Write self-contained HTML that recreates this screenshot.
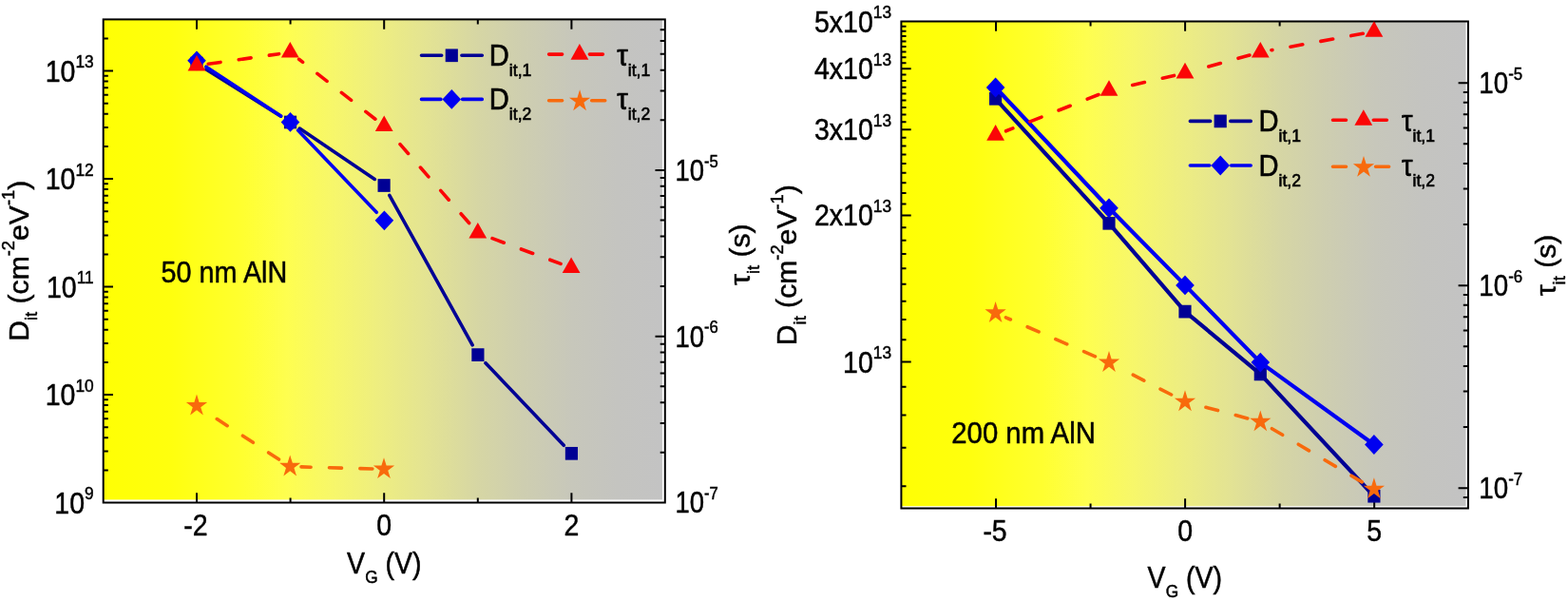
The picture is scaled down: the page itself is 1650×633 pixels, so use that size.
<!DOCTYPE html>
<html lang="en"><head><meta charset="utf-8"><title>Dit and tau_it versus VG for 50 nm and 200 nm AlN</title>
<style>
html,body{margin:0;padding:0;background:#fff;}
body{width:1650px;height:633px;overflow:hidden;}
svg{display:block;}
text{font-family:"Liberation Sans", sans-serif;fill:#000;}
</style></head><body>
<svg width="1650" height="633" viewBox="0 0 1650 633">
<rect width="1650" height="633" fill="#fff"/>
<defs><linearGradient id="gL" x1="0" y1="0" x2="1" y2="0">
<stop offset="0" stop-color="#ffff04"/>
<stop offset="0.12" stop-color="#ffff0e"/>
<stop offset="0.25" stop-color="#ffff30"/>
<stop offset="0.33" stop-color="#fefe50"/>
<stop offset="0.41" stop-color="#f7f76a"/>
<stop offset="0.5" stop-color="#eded82"/>
<stop offset="0.58" stop-color="#e3e393"/>
<stop offset="0.67" stop-color="#d6d6a4"/>
<stop offset="0.75" stop-color="#ceceb0"/>
<stop offset="0.84" stop-color="#c7c7bb"/>
<stop offset="0.92" stop-color="#c4c4c0"/>
<stop offset="1" stop-color="#c3c3c3"/>
</linearGradient></defs>
<rect x="108.7" y="20.4" width="588.20" height="505.00" fill="url(#gL)"/>
<path d="M207.00 528.5v-10.3M207.00 20.4v10.3M305.60 528.5v-5.1M305.60 20.4v5.1M404.20 528.5v-10.3M404.20 20.4v10.3M502.80 528.5v-5.1M502.80 20.4v5.1M601.40 528.5v-10.3M601.40 20.4v10.3M108.7 494.43h5.1M108.7 474.45h5.1M108.7 460.27h5.1M108.7 449.27h5.1M108.7 440.28h5.1M108.7 432.68h5.1M108.7 426.10h5.1M108.7 420.29h5.1M108.7 415.10h10.3M108.7 380.93h5.1M108.7 360.95h5.1M108.7 346.77h5.1M108.7 335.77h5.1M108.7 326.78h5.1M108.7 319.18h5.1M108.7 312.60h5.1M108.7 306.79h5.1M108.7 301.60h10.3M108.7 267.43h5.1M108.7 247.45h5.1M108.7 233.27h5.1M108.7 222.27h5.1M108.7 213.28h5.1M108.7 205.68h5.1M108.7 199.10h5.1M108.7 193.29h5.1M108.7 188.10h10.3M108.7 153.93h5.1M108.7 133.95h5.1M108.7 119.77h5.1M108.7 108.77h5.1M108.7 99.78h5.1M108.7 92.18h5.1M108.7 85.60h5.1M108.7 79.79h5.1M108.7 74.60h10.3M108.7 40.43h5.1M699.8 475.80h-5.1M699.8 445.02h-5.1M699.8 423.19h-5.1M699.8 406.25h-5.1M699.8 392.42h-5.1M699.8 380.72h-5.1M699.8 370.59h-5.1M699.8 361.65h-5.1M699.8 353.65h-10.3M699.8 301.05h-5.1M699.8 270.27h-5.1M699.8 248.44h-5.1M699.8 231.50h-5.1M699.8 217.67h-5.1M699.8 205.97h-5.1M699.8 195.84h-5.1M699.8 186.90h-5.1M699.8 178.90h-10.3M699.8 126.30h-5.1M699.8 95.52h-5.1M699.8 73.69h-5.1M699.8 56.75h-5.1M699.8 42.92h-5.1M699.8 31.22h-5.1" stroke="#000" stroke-width="2" fill="none"/>
<rect x="108.7" y="20.4" width="591.10" height="508.10" fill="none" stroke="#000" stroke-width="2"/>
<path d="M216.99 72.88L295.51 122.22M315.28 135.10L394.32 188.40M409.82 205.32L497.18 362.78M511.03 381.66L593.27 468.24" stroke="#000094" stroke-width="3.6" fill="none" stroke-linecap="round"/>
<rect x="200.42" y="59.75" width="13.16" height="13.70" fill="#000094"/>
<rect x="298.92" y="121.65" width="13.16" height="13.70" fill="#000094"/>
<rect x="397.52" y="188.15" width="13.16" height="13.70" fill="#000094"/>
<rect x="496.32" y="366.25" width="13.16" height="13.70" fill="#000094"/>
<rect x="594.82" y="469.95" width="13.16" height="13.70" fill="#000094"/>
<path d="M216.87 70.27L295.63 121.93M313.66 136.93L396.24 223.27" stroke="#0000f0" stroke-width="3.6" fill="none" stroke-linecap="round"/>
<path d="M207.00 53.40L216.80 63.80L207.00 74.20L197.20 63.80Z" fill="#0000f0"/>
<path d="M305.50 118.00L315.30 128.40L305.50 138.80L295.70 128.40Z" fill="#0000f0"/>
<path d="M404.40 221.40L414.20 231.80L404.40 242.20L394.60 231.80Z" fill="#0000f0"/>
<path d="M219.18 67.27L232.05 65.43M251.25 62.70L264.12 60.86M283.33 58.13L293.62 56.66M314.59 62.28L318.60 65.42M333.87 77.39L344.10 85.41M359.38 97.37L369.61 105.39M384.88 117.36L394.91 125.22M421.01 151.68L429.58 161.45M442.36 176.04L450.93 185.82M463.72 200.41L472.29 210.19M485.07 224.78L493.64 234.55M518.08 250.67L530.27 255.20M548.45 261.95L560.64 266.48M578.83 273.23L590.04 277.39" stroke="#fb0606" stroke-width="3.6" fill="none" stroke-linecap="round"/>
<path d="M207.00 58.00L216.40 74.60L197.60 74.60Z" fill="#fb0606"/>
<path d="M305.30 44.00L314.70 60.60L295.90 60.60Z" fill="#fb0606"/>
<path d="M404.20 121.50L413.60 138.10L394.80 138.10Z" fill="#fb0606"/>
<path d="M502.80 234.00L512.20 250.60L493.40 250.60Z" fill="#fb0606"/>
<path d="M601.10 270.50L610.50 287.10L591.70 287.10Z" fill="#fb0606"/>
<path d="M228.29 440.55L239.19 447.64M255.45 458.22L266.34 465.31M282.60 475.90L293.50 482.99M317.00 490.92L327.09 491.20M346.48 491.73L359.48 492.08M378.87 492.61L391.87 492.97" stroke="#f86a0c" stroke-width="3.6" fill="none" stroke-linecap="round"/>
<path d="M207.00 414.60L209.62 422.96L218.11 422.96L211.24 428.13L213.86 436.49L207.00 431.32L200.14 436.49L202.76 428.13L195.89 422.96L204.38 422.96Z" fill="#f86a0c"/>
<path d="M305.20 478.50L307.82 486.86L316.31 486.86L309.44 492.03L312.06 500.39L305.20 495.22L298.34 500.39L300.96 492.03L294.09 486.86L302.58 486.86Z" fill="#f86a0c"/>
<path d="M404.00 481.20L406.62 489.56L415.11 489.56L408.24 494.73L410.86 503.09L404.00 497.92L397.14 503.09L399.76 494.73L392.89 489.56L401.38 489.56Z" fill="#f86a0c"/>
<path d="M443.50 58.30H464.70M485.90 58.30H507.30" stroke="#000094" stroke-width="3.6" stroke-linecap="round" fill="none"/>
<path d="M443.50 104.40H463.90M486.70 104.40H507.30" stroke="#0000f0" stroke-width="3.6" stroke-linecap="round" fill="none"/>
<rect x="468.72" y="51.45" width="13.16" height="13.70" fill="#000094"/>
<path d="M475.30 94.00L485.10 104.40L475.30 114.80L465.50 104.40Z" fill="#0000f0"/>
<path d="M577.60 57.10h14M620.40 57.10h14" stroke="#fb0606" stroke-width="3.6" stroke-linecap="round" fill="none"/>
<path d="M577.60 105.70h14M622.70 105.70h14" stroke="#f86a0c" stroke-width="3.6" stroke-linecap="round" fill="none"/>
<path d="M609.90 46.10L619.30 62.70L600.50 62.70Z" fill="#fb0606"/>
<path d="M610.10 94.30L612.72 102.66L621.21 102.66L614.34 107.83L616.96 116.19L610.10 111.02L603.24 116.19L605.86 107.83L598.99 102.66L607.48 102.66Z" fill="#f86a0c"/>
<text transform="translate(514.8 69.3) scale(0.94 1)" font-size="31.0" text-anchor="start" stroke="#000" stroke-width="0.65">D<tspan font-size="18.7" dy="11">it,1</tspan></text>
<text transform="translate(514.8 115.4) scale(0.94 1)" font-size="31.0" text-anchor="start" stroke="#000" stroke-width="0.65">D<tspan font-size="18.7" dy="11">it,2</tspan></text>
<text transform="translate(649.3 69.3) scale(0.94 1)" font-size="31.0" text-anchor="start" stroke="#000" stroke-width="0.65">τ<tspan font-size="18.7" dy="11">it,1</tspan></text>
<text transform="translate(649.3 115.4) scale(0.94 1)" font-size="31.0" text-anchor="start" stroke="#000" stroke-width="0.65">τ<tspan font-size="18.7" dy="11">it,2</tspan></text>
<text transform="translate(98.6 85.5) scale(0.92 1)" font-size="31.0" text-anchor="end" stroke="#000" stroke-width="0.5">10<tspan font-size="18.8" dy="-14.2">13</tspan></text>
<text transform="translate(98.6 199.0) scale(0.92 1)" font-size="31.0" text-anchor="end" stroke="#000" stroke-width="0.5">10<tspan font-size="18.8" dy="-14.2">12</tspan></text>
<text transform="translate(98.6 312.5) scale(0.92 1)" font-size="31.0" text-anchor="end" stroke="#000" stroke-width="0.5">10<tspan font-size="18.8" dy="-14.2">11</tspan></text>
<text transform="translate(98.6 426.0) scale(0.92 1)" font-size="31.0" text-anchor="end" stroke="#000" stroke-width="0.5">10<tspan font-size="18.8" dy="-14.2">10</tspan></text>
<text transform="translate(98.6 539.5) scale(0.92 1)" font-size="31.0" text-anchor="end" stroke="#000" stroke-width="0.5">10<tspan font-size="18.8" dy="-14.2">9</tspan></text>
<text transform="translate(710.5 189.8) scale(0.885 1)" font-size="31.0" text-anchor="start" stroke="#000" stroke-width="0.5">10<tspan font-size="18.8" dy="-14.2">-5</tspan></text>
<text transform="translate(710.5 364.5) scale(0.885 1)" font-size="31.0" text-anchor="start" stroke="#000" stroke-width="0.5">10<tspan font-size="18.8" dy="-14.2">-6</tspan></text>
<text transform="translate(710.5 539.3) scale(0.885 1)" font-size="31.0" text-anchor="start" stroke="#000" stroke-width="0.5">10<tspan font-size="18.8" dy="-14.2">-7</tspan></text>
<text transform="translate(206.0 562.6) scale(0.92 1)" font-size="31.0" text-anchor="middle" stroke="#000" stroke-width="0.5">-2</text>
<text transform="translate(404.2 562.6) scale(0.92 1)" font-size="31.0" text-anchor="middle" stroke="#000" stroke-width="0.5">0</text>
<text transform="translate(601.4 562.6) scale(0.92 1)" font-size="31.0" text-anchor="middle" stroke="#000" stroke-width="0.5">2</text>
<text transform="translate(404.3 602.7) scale(0.92 1)" font-size="31.0" text-anchor="middle" stroke="#000" stroke-width="0.5">V<tspan font-size="18.8" dy="10">G</tspan><tspan dy="-10"> (V)</tspan></text>
<text transform="translate(169.5 297.0) scale(0.911 1)" font-size="31.6" text-anchor="start" stroke="#000" stroke-width="0.5">50 nm AlN</text>
<text transform="translate(29.5 358.8) rotate(-90) scale(1.04 1)" font-size="29.0" text-anchor="start" stroke="#000" stroke-width="0.45">D<tspan font-size="17.6" dy="9.8">it</tspan><tspan dy="-9.8"> (cm</tspan><tspan font-size="17.6" dy="-14.3">-2</tspan><tspan dy="14.3">eV</tspan><tspan font-size="17.6" dy="-14.3">-1</tspan><tspan dy="14.3">)</tspan></text>
<text transform="translate(788.7 300) rotate(-90) scale(1.04 1)" font-size="29.0" text-anchor="start" stroke="#000" stroke-width="0.45">τ<tspan font-size="17.6" dy="9.8">it</tspan><tspan dy="-9.8"> (s)</tspan></text>
<defs><linearGradient id="gR" x1="0" y1="0" x2="1" y2="0">
<stop offset="0" stop-color="#ffff04"/>
<stop offset="0.12" stop-color="#ffff0e"/>
<stop offset="0.25" stop-color="#ffff30"/>
<stop offset="0.33" stop-color="#fefe50"/>
<stop offset="0.41" stop-color="#f7f76a"/>
<stop offset="0.5" stop-color="#eded82"/>
<stop offset="0.58" stop-color="#e3e393"/>
<stop offset="0.67" stop-color="#d6d6a4"/>
<stop offset="0.75" stop-color="#ceceb0"/>
<stop offset="0.84" stop-color="#c7c7bb"/>
<stop offset="0.92" stop-color="#c4c4c0"/>
<stop offset="1" stop-color="#c3c3c3"/>
</linearGradient></defs>
<rect x="948.4" y="22.5" width="594.10" height="509.70" fill="url(#gR)"/>
<path d="M1048.05 534.5v-10.3M1048.05 22.5v10.3M1147.57 534.5v-5.1M1147.57 22.5v5.1M1247.10 534.5v-10.3M1247.10 22.5v10.3M1346.62 534.5v-5.1M1346.62 22.5v5.1M1446.15 534.5v-10.3M1446.15 22.5v10.3M948.4 511.30h5.1M948.4 470.76h5.1M948.4 436.48h5.1M948.4 406.79h5.1M948.4 380.60h10.3M948.4 357.17h5.1M948.4 335.98h5.1M948.4 316.63h5.1M948.4 298.83h5.1M948.4 282.35h5.1M948.4 267.01h5.1M948.4 252.66h5.1M948.4 239.18h5.1M948.4 226.47h10.3M948.4 214.45h5.1M948.4 203.04h5.1M948.4 192.20h5.1M948.4 181.85h5.1M948.4 171.97h5.1M948.4 162.50h5.1M948.4 153.43h5.1M948.4 144.71h5.1M948.4 136.31h10.3M948.4 128.23h5.1M948.4 120.42h5.1M948.4 112.89h5.1M948.4 105.59h5.1M948.4 98.54h5.1M948.4 91.69h5.1M948.4 85.05h5.1M948.4 78.61h5.1M948.4 72.35h10.3M948.4 66.25h5.1M948.4 60.32h5.1M948.4 54.55h5.1M948.4 48.92h5.1M948.4 43.43h5.1M948.4 38.07h5.1M948.4 32.84h5.1M948.4 27.72h5.1M1544.9 522.95h-5.1M1544.9 513.20h-10.3M1544.9 449.08h-5.1M1544.9 411.57h-5.1M1544.9 384.96h-5.1M1544.9 364.32h-5.1M1544.9 347.45h-5.1M1544.9 333.19h-5.1M1544.9 320.84h-5.1M1544.9 309.95h-5.1M1544.9 300.20h-10.3M1544.9 236.08h-5.1M1544.9 198.57h-5.1M1544.9 171.96h-5.1M1544.9 151.32h-5.1M1544.9 134.45h-5.1M1544.9 120.19h-5.1M1544.9 107.84h-5.1M1544.9 96.95h-5.1M1544.9 87.20h-10.3" stroke="#000" stroke-width="2" fill="none"/>
<rect x="948.4" y="22.5" width="596.50" height="512.00" fill="none" stroke="#000" stroke-width="2"/>
<path d="M1047.60 103.80L1167.00 234.80M1167.00 234.80L1247.00 327.60M1247.00 327.60L1326.30 393.40M1326.30 393.40L1445.90 521.70" stroke="#000094" stroke-width="4.2" fill="none" stroke-linecap="butt"/>
<rect x="1041.02" y="96.95" width="13.16" height="13.70" fill="#000094"/>
<rect x="1160.42" y="227.95" width="13.16" height="13.70" fill="#000094"/>
<rect x="1240.42" y="320.75" width="13.16" height="13.70" fill="#000094"/>
<rect x="1319.72" y="386.55" width="13.16" height="13.70" fill="#000094"/>
<rect x="1439.32" y="514.85" width="13.16" height="13.70" fill="#000094"/>
<path d="M1047.60 92.00L1167.00 218.80M1167.00 218.80L1247.00 299.90M1247.00 299.90L1326.30 381.10M1326.30 381.10L1445.90 467.50" stroke="#0000f0" stroke-width="4.2" fill="none" stroke-linecap="butt"/>
<path d="M1047.60 81.60L1057.40 92.00L1047.60 102.40L1037.80 92.00Z" fill="#0000f0"/>
<path d="M1167.00 208.40L1176.80 218.80L1167.00 229.20L1157.20 218.80Z" fill="#0000f0"/>
<path d="M1247.00 289.50L1256.80 299.90L1247.00 310.30L1237.20 299.90Z" fill="#0000f0"/>
<path d="M1326.30 370.70L1336.10 381.10L1326.30 391.50L1316.50 381.10Z" fill="#0000f0"/>
<path d="M1445.90 457.10L1455.70 467.50L1445.90 477.90L1436.10 467.50Z" fill="#0000f0"/>
<path d="M1058.58 137.79L1065.84 134.93M1083.90 127.84L1096.00 123.09M1114.06 116.00L1126.16 111.24M1144.21 104.15L1156.02 99.51M1191.75 89.51L1204.42 86.59M1223.33 82.24L1235.50 79.44M1271.77 69.96L1284.30 66.50M1303.00 61.33L1314.93 58.04M1337.91 52.79L1338.89 52.61M1357.98 49.15L1370.77 46.83M1389.86 43.37L1402.65 41.05M1421.74 37.58L1434.29 35.31" stroke="#fb0606" stroke-width="3.6" fill="none" stroke-linecap="round"/>
<path d="M1047.60 131.10L1057.00 147.70L1038.20 147.70Z" fill="#fb0606"/>
<path d="M1167.00 84.20L1176.40 100.80L1157.60 100.80Z" fill="#fb0606"/>
<path d="M1247.00 65.80L1256.40 82.40L1237.60 82.40Z" fill="#fb0606"/>
<path d="M1326.30 43.90L1335.70 60.50L1316.90 60.50Z" fill="#fb0606"/>
<path d="M1445.90 22.20L1455.30 38.80L1436.50 38.80Z" fill="#fb0606"/>
<path d="M1058.42 333.82L1063.36 335.98M1081.15 343.74L1093.06 348.94M1110.84 356.70L1122.76 361.89M1140.54 369.65L1152.45 374.85M1192.25 394.20L1203.81 400.15M1221.05 409.04L1232.61 414.99M1268.94 428.24L1281.50 431.58M1300.25 436.57L1312.81 439.91M1338.43 450.69L1349.61 457.32M1366.30 467.21L1377.48 473.84M1394.17 483.73L1405.35 490.36M1422.04 500.26L1433.22 506.89" stroke="#f86a0c" stroke-width="3.6" fill="none" stroke-linecap="round"/>
<path d="M1047.60 317.00L1050.22 325.36L1058.71 325.36L1051.84 330.53L1054.46 338.89L1047.60 333.72L1040.74 338.89L1043.36 330.53L1036.49 325.36L1044.98 325.36Z" fill="#f86a0c"/>
<path d="M1167.00 369.10L1169.62 377.46L1178.11 377.46L1171.24 382.63L1173.86 390.99L1167.00 385.82L1160.14 390.99L1162.76 382.63L1155.89 377.46L1164.38 377.46Z" fill="#f86a0c"/>
<path d="M1247.00 410.30L1249.62 418.66L1258.11 418.66L1251.24 423.83L1253.86 432.19L1247.00 427.02L1240.14 432.19L1242.76 423.83L1235.89 418.66L1244.38 418.66Z" fill="#f86a0c"/>
<path d="M1326.30 431.40L1328.92 439.76L1337.41 439.76L1330.54 444.93L1333.16 453.29L1326.30 448.12L1319.44 453.29L1322.06 444.93L1315.19 439.76L1323.68 439.76Z" fill="#f86a0c"/>
<path d="M1445.90 502.30L1448.52 510.66L1457.01 510.66L1450.14 515.83L1452.76 524.19L1445.90 519.02L1439.04 524.19L1441.66 515.83L1434.79 510.66L1443.28 510.66Z" fill="#f86a0c"/>
<path d="M1252.40 127.40H1273.60M1294.80 127.40H1316.20" stroke="#000094" stroke-width="3.6" stroke-linecap="round" fill="none"/>
<path d="M1252.40 174.00H1272.80M1295.60 174.00H1316.20" stroke="#0000f0" stroke-width="3.6" stroke-linecap="round" fill="none"/>
<rect x="1277.62" y="120.55" width="13.16" height="13.70" fill="#000094"/>
<path d="M1284.20 163.60L1294.00 174.00L1284.20 184.40L1274.40 174.00Z" fill="#0000f0"/>
<path d="M1402.50 126.20h14M1445.30 126.20h14" stroke="#fb0606" stroke-width="3.6" stroke-linecap="round" fill="none"/>
<path d="M1402.50 175.30h14M1447.60 175.30h14" stroke="#f86a0c" stroke-width="3.6" stroke-linecap="round" fill="none"/>
<path d="M1434.80 115.20L1444.20 131.80L1425.40 131.80Z" fill="#fb0606"/>
<path d="M1435.00 163.90L1437.62 172.26L1446.11 172.26L1439.24 177.43L1441.86 185.79L1435.00 180.62L1428.14 185.79L1430.76 177.43L1423.89 172.26L1432.38 172.26Z" fill="#f86a0c"/>
<text transform="translate(1324.5 138.4) scale(0.94 1)" font-size="31.0" text-anchor="start" stroke="#000" stroke-width="0.65">D<tspan font-size="18.7" dy="11">it,1</tspan></text>
<text transform="translate(1324.5 185.0) scale(0.94 1)" font-size="31.0" text-anchor="start" stroke="#000" stroke-width="0.65">D<tspan font-size="18.7" dy="11">it,2</tspan></text>
<text transform="translate(1475.0 138.4) scale(0.94 1)" font-size="31.0" text-anchor="start" stroke="#000" stroke-width="0.65">τ<tspan font-size="18.7" dy="11">it,1</tspan></text>
<text transform="translate(1475.0 185.0) scale(0.94 1)" font-size="31.0" text-anchor="start" stroke="#000" stroke-width="0.65">τ<tspan font-size="18.7" dy="11">it,2</tspan></text>
<text transform="translate(938 33.627357779958366) scale(0.92 1)" font-size="31.0" text-anchor="end" stroke="#000" stroke-width="0.5">5x10<tspan font-size="18.8" dy="-14.2">13</tspan></text>
<text transform="translate(938 83.24528444008328) scale(0.92 1)" font-size="31.0" text-anchor="end" stroke="#000" stroke-width="0.5">4x10<tspan font-size="18.8" dy="-14.2">13</tspan></text>
<text transform="translate(938 147.21391758353286) scale(0.92 1)" font-size="31.0" text-anchor="end" stroke="#000" stroke-width="0.5">3x10<tspan font-size="18.8" dy="-14.2">13</tspan></text>
<text transform="translate(938 237.37264222004166) scale(0.92 1)" font-size="31.0" text-anchor="end" stroke="#000" stroke-width="0.5">2x10<tspan font-size="18.8" dy="-14.2">13</tspan></text>
<text transform="translate(938 391.5) scale(0.92 1)" font-size="31.0" text-anchor="end" stroke="#000" stroke-width="0.5">10<tspan font-size="18.8" dy="-14.2">13</tspan></text>
<text transform="translate(1556.3 98.10000000000001) scale(0.895 1)" font-size="31.0" text-anchor="start" stroke="#000" stroke-width="0.5">10<tspan font-size="18.8" dy="-14.6">-5</tspan></text>
<text transform="translate(1556.3 311.09999999999997) scale(0.895 1)" font-size="31.0" text-anchor="start" stroke="#000" stroke-width="0.5">10<tspan font-size="18.8" dy="-14.6">-6</tspan></text>
<text transform="translate(1556.3 524.1) scale(0.895 1)" font-size="31.0" text-anchor="start" stroke="#000" stroke-width="0.5">10<tspan font-size="18.8" dy="-14.6">-7</tspan></text>
<text transform="translate(1047.05 569.4) scale(0.92 1)" font-size="31.0" text-anchor="middle" stroke="#000" stroke-width="0.5">-5</text>
<text transform="translate(1247.1 569.4) scale(0.92 1)" font-size="31.0" text-anchor="middle" stroke="#000" stroke-width="0.5">0</text>
<text transform="translate(1446.1499999999999 569.4) scale(0.92 1)" font-size="31.0" text-anchor="middle" stroke="#000" stroke-width="0.5">5</text>
<text transform="translate(1246.8 618.3) scale(0.92 1)" font-size="31.0" text-anchor="middle" stroke="#000" stroke-width="0.5">V<tspan font-size="18.8" dy="10">G</tspan><tspan dy="-10"> (V)</tspan></text>
<text transform="translate(1001.3 466.0) scale(0.928 1)" font-size="31.6" text-anchor="start" stroke="#000" stroke-width="0.5">200 nm AlN</text>
<text transform="translate(838.4 363.2) rotate(-90) scale(1.04 1)" font-size="29.0" text-anchor="start" stroke="#000" stroke-width="0.45">D<tspan font-size="17.6" dy="9.8">it</tspan><tspan dy="-9.8"> (cm</tspan><tspan font-size="17.6" dy="-14.3">-2</tspan><tspan dy="14.3">eV</tspan><tspan font-size="17.6" dy="-14.3">-1</tspan><tspan dy="14.3">)</tspan></text>
<text transform="translate(1637 311.3) rotate(-90) scale(1.04 1)" font-size="29.0" text-anchor="start" stroke="#000" stroke-width="0.45">τ<tspan font-size="17.6" dy="9.8">it</tspan><tspan dy="-9.8"> (s)</tspan></text>
</svg>
</body></html>
